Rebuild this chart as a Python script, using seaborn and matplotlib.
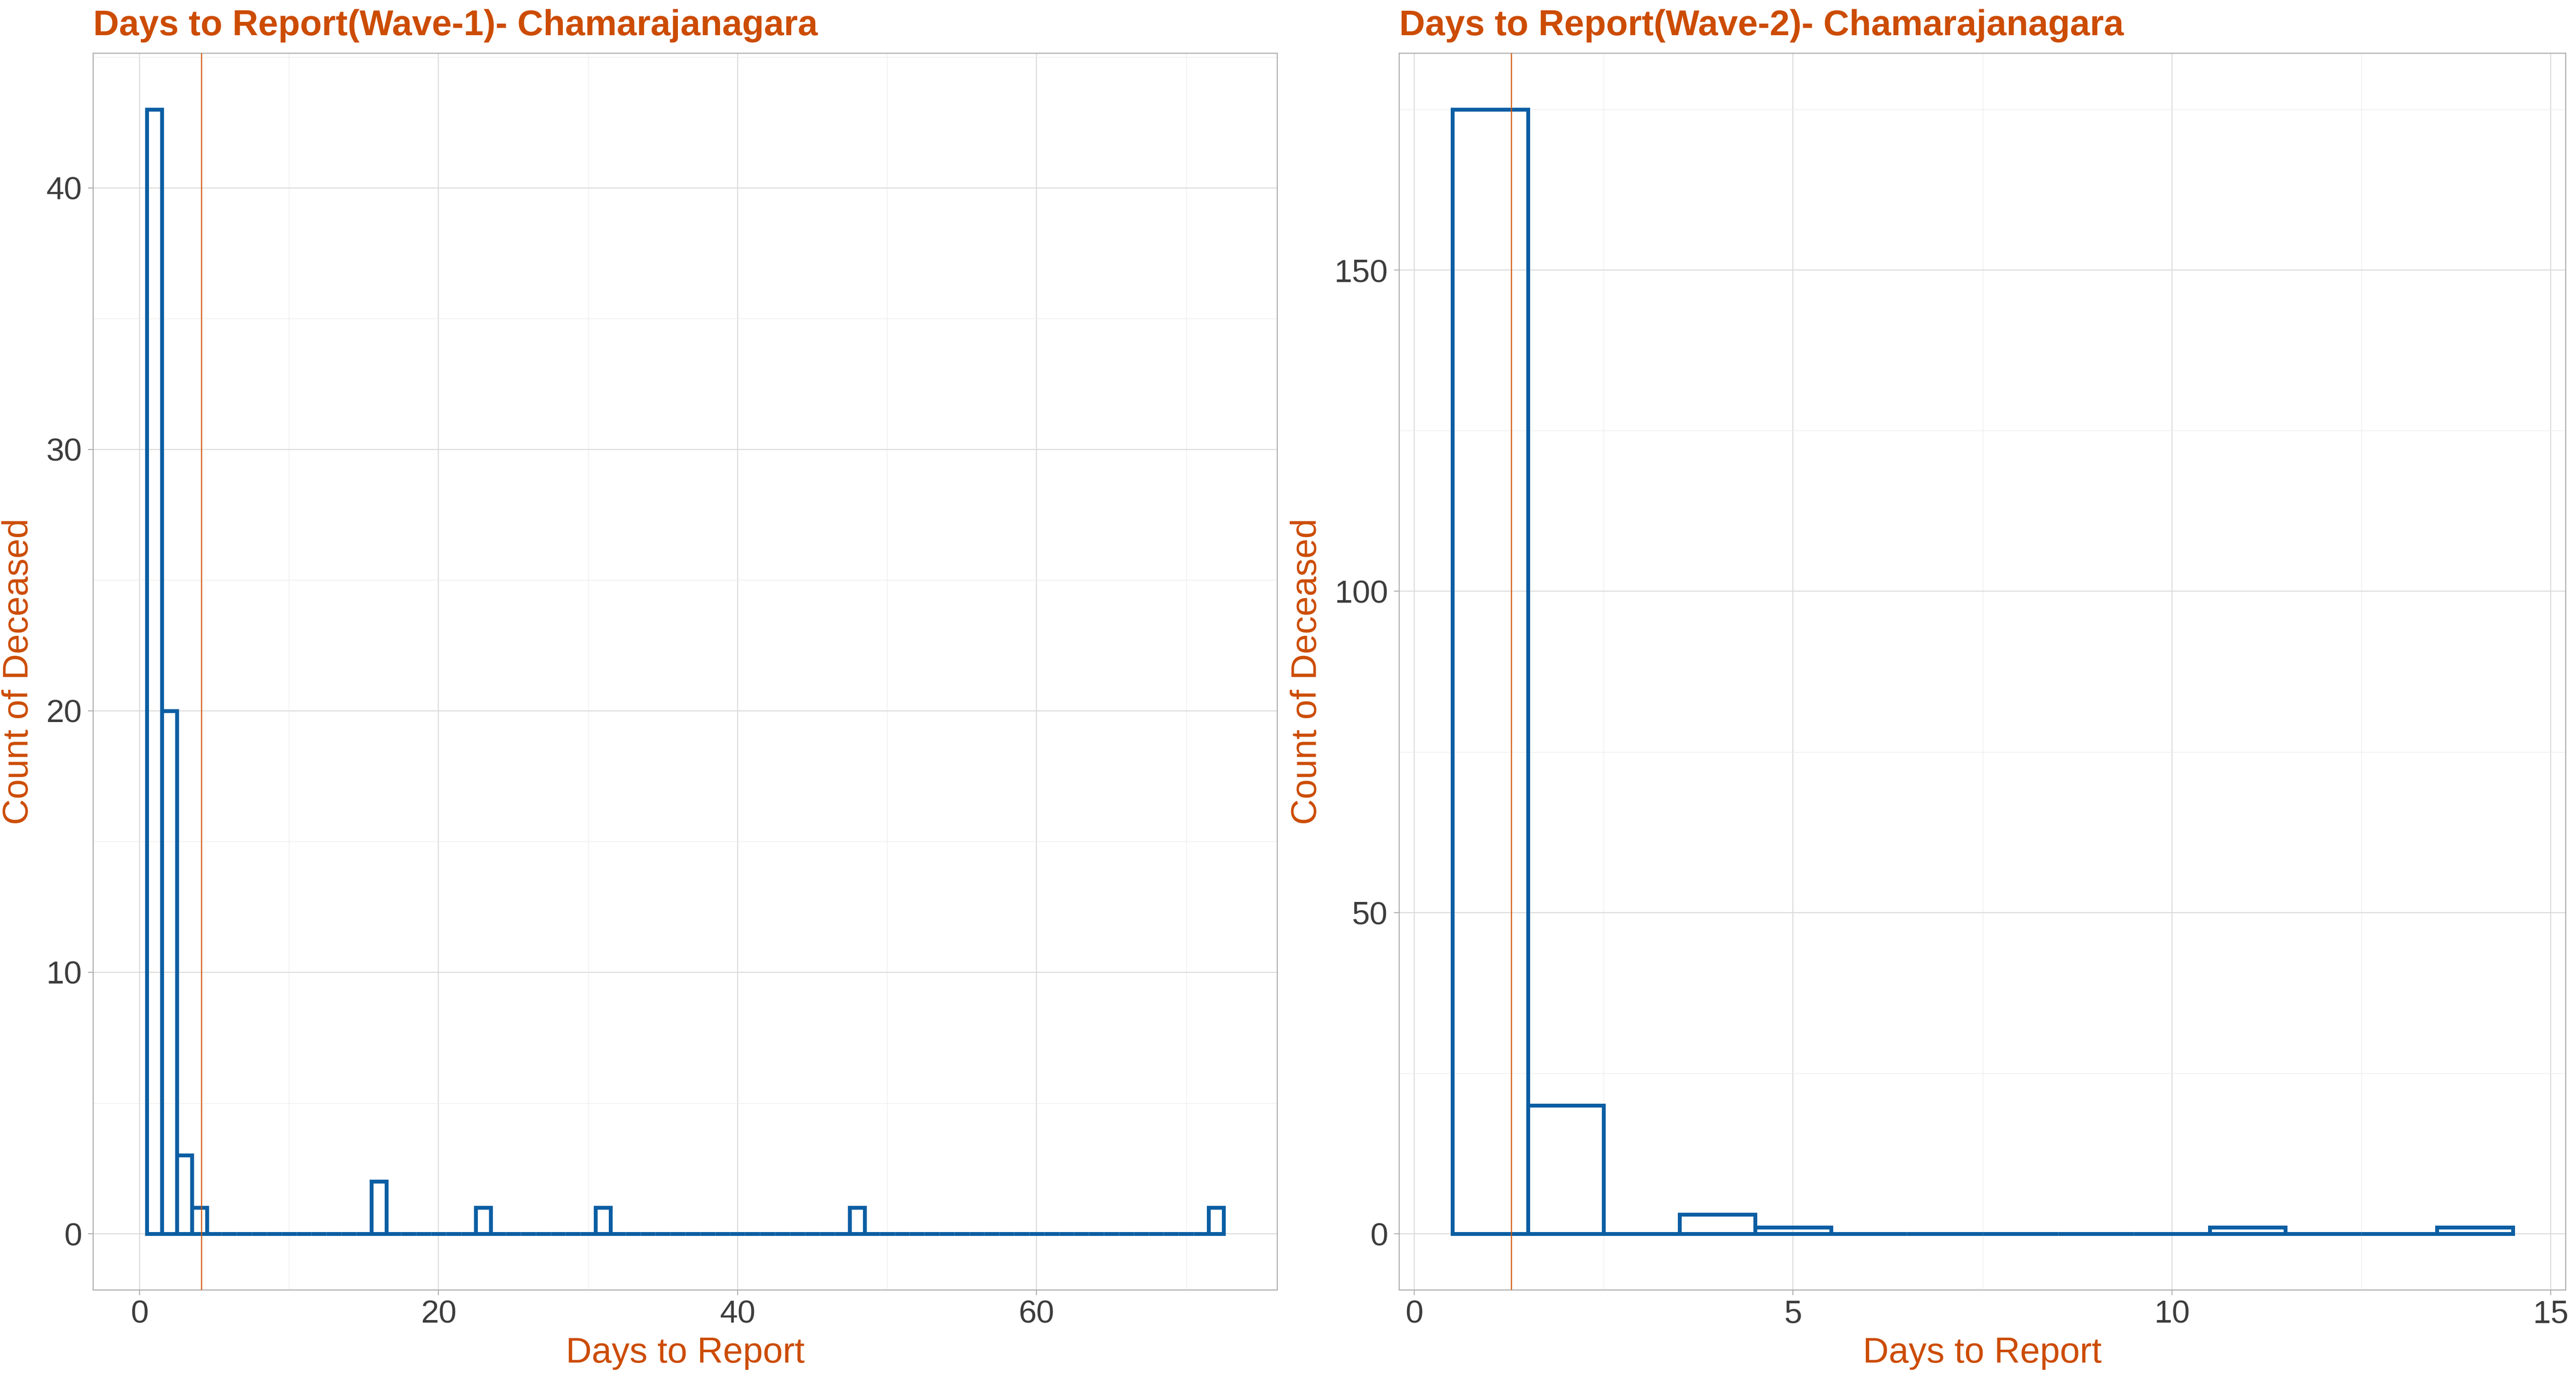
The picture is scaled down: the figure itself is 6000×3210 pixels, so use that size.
import numpy as np
import pandas as pd
import matplotlib
matplotlib.use("Agg")
import matplotlib.pyplot as plt
from matplotlib.ticker import MultipleLocator
import seaborn as sns

# ---- data ----
wave1_days = [1, 2, 3, 4, 16, 23, 31, 48, 72]
wave1_counts = [43, 20, 3, 1, 2, 1, 1, 1, 1]
wave2_days = [1, 2, 4, 5, 11, 14]
wave2_counts = [175, 20, 3, 1, 1, 1]

titles = ["Days to Report(Wave-1)- Chamarajanagara",
          "Days to Report(Wave-2)- Chamarajanagara"]
x_label = "Days to Report"
y_label = "Count of Deceased"
x_major = [20, 5]
y_major = [10, 50]

# ---- style ----
sns.set_theme(style="white")
plt.rcParams["font.family"] = ["Liberation Sans", "DejaVu Sans"]

BLUE = "#0B5EA3"
ORANGE = "#CC4C02"
MEANC = "#D35400"
GRID_MAJOR = "#DADADA"
GRID_MINOR = "#EDEDED"
BORDER = "#A9A9A9"
TICKTXT = "#3D3D3D"

W, H = 6000, 3210
fig = plt.figure(figsize=(W / 300, H / 300), dpi=300)
fig.patch.set_facecolor("white")

rects = [
    [217 / W, (H - 3005) / H, (2975 - 217) / W, (3005 - 124) / H],
    [3259 / W, (H - 3005) / H, (5976 - 3259) / W, (3005 - 124) / H],
]

waves = [(wave1_days, wave1_counts), (wave2_days, wave2_counts)]

for i, ((days, counts), rect) in enumerate(zip(waves, rects)):
    ax = fig.add_axes(rect)
    values = np.repeat(days, counts)
    df = pd.DataFrame({"days": values})

    sns.histplot(data=df, x="days", discrete=True, fill=False,
                 color=BLUE, linewidth=2.15, ax=ax, zorder=3)

    mean_val = float(np.mean(values))
    ax.axvline(mean_val, color=MEANC, linewidth=0.6, zorder=4)

    lo, hi = min(days) - 0.5, max(days) + 0.5
    span = hi - lo
    ax.set_xlim(lo - 0.05 * span, hi + 0.05 * span)
    cmax = max(counts)
    ax.set_ylim(-0.05 * cmax, 1.05 * cmax)

    ax.xaxis.set_major_locator(MultipleLocator(x_major[i]))
    ax.xaxis.set_minor_locator(MultipleLocator(x_major[i] / 2))
    ax.yaxis.set_major_locator(MultipleLocator(y_major[i]))
    ax.yaxis.set_minor_locator(MultipleLocator(y_major[i] / 2))

    ax.set_axisbelow(True)
    ax.grid(which="major", color=GRID_MAJOR, linewidth=0.55, zorder=0)
    ax.grid(which="minor", color=GRID_MINOR, linewidth=0.35, zorder=0)

    for sp in ax.spines.values():
        sp.set_color(BORDER)
        sp.set_linewidth(0.55)
        sp.set_visible(True)

    ax.tick_params(axis="both", which="major", length=2.9, width=0.5,
                   color=BORDER, labelsize=18, labelcolor=TICKTXT)
    ax.tick_params(axis="x", which="major", pad=2.4, bottom=True)
    ax.tick_params(axis="y", which="major", pad=3.4, left=True)
    ax.tick_params(which="minor", length=0)

    ax.set_xlabel(x_label, fontsize=20, color=ORANGE, labelpad=4)
    ax.set_ylabel(y_label, fontsize=20, color=ORANGE, labelpad=6)
    ax.set_title(titles[i], loc="left", fontsize=20, fontweight="bold",
                 color=ORANGE, pad=10)

fig.savefig("out.png", dpi=300, facecolor="white")
